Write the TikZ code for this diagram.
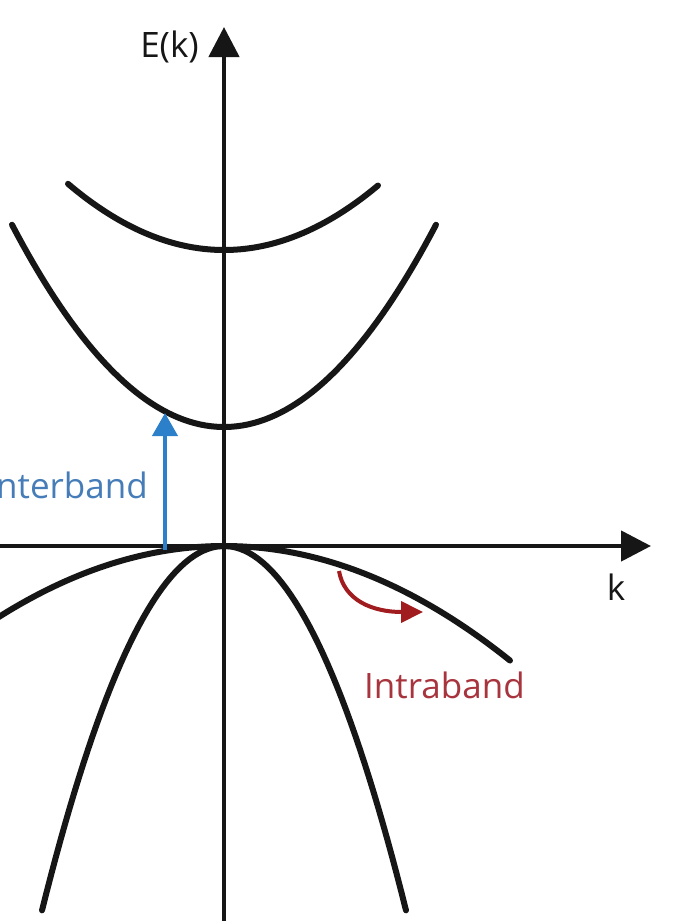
\documentclass[tikz,border=0pt]{standalone}
\usepackage{fontspec}
\setmainfont{Open Sans}
\usetikzlibrary{arrows.meta}
\definecolor{bandblack}{RGB}{22,22,22}
\definecolor{interblue}{RGB}{44,128,202}
\definecolor{intertext}{RGB}{70,125,185}
\definecolor{intrared}{RGB}{160,28,30}
\definecolor{intratext}{RGB}{168,52,62}
\tikzset{
  band/.style={line width=6pt, color=bandblack, line cap=round},
  axis/.style={line width=4.5pt, color=bandblack, -{Triangle[length=30pt,width=30pt]}},
  lbl/.style={inner sep=0pt, font=\fontsize{35}{40}\selectfont},
}
\begin{document}
\begin{tikzpicture}[x=1pt,y=-1pt]
\useasboundingbox (0,0) rectangle (692,921);
\fill[white] (0,0) rectangle (692,921);
% axes
\coordinate (yb) at (224,921);
\coordinate (yt) at (224,27);
\coordinate (xl) at (-5,546);
\coordinate (xr) at (651,546);
\draw[axis] (yb) -- (yt);
\draw[axis] (xl) -- (xr);
\node[lbl, anchor=base east, text=bandblack] (Ek) at (199,57) {E(k)};
\node[lbl, anchor=base, text=bandblack] (k) at (616,600) {k};
% bands
\draw[band] plot[domain=68:378, samples=80] (\x, {250 - 27.2*((\x-224)/100)^2});
\draw[band] plot[domain=12:436, samples=80] (\x, {427 - 45*((\x-224)/100)^2});
\draw[band] plot[domain=-5:510, samples=80] (\x, {546 + 14*((\x-224)/100)^2});
\draw[band] plot[domain=42:406, samples=80] (\x, {546 + 110*((\x-224)/100)^2});
% interband
\coordinate (ib0) at (165,550);
\coordinate (ib1) at (165,413);
\draw[line width=4pt, color=interblue, -{Triangle[length=23pt,width=25pt]}] (ib0) -- (ib1);
\node[lbl, anchor=base east, text=intertext] (inter) at (148,498) {Interband};
% intraband
\coordinate (ra0) at (339,571);
\coordinate (ra1) at (423,612);
\draw[line width=4pt, color=intrared, -{Triangle[length=22pt,width=21pt]}] (ra0) .. controls (344,600) and (372,612) .. (ra1);
\node[lbl, anchor=base west, text=intratext] (intra) at (364,698) {Intraband};
\end{tikzpicture}
\end{document}
